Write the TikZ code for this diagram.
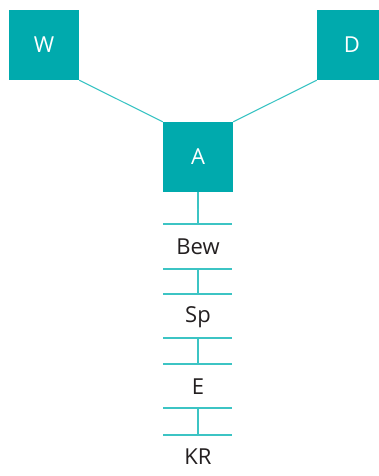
\documentclass[tikz,border=0pt]{standalone}
\usepackage{fontspec}
\setmainfont{Open Sans}
\definecolor{teal1}{HTML}{00AAAD}
\definecolor{teal2}{HTML}{3CC4C4}
\definecolor{txt}{HTML}{231F20}
\begin{document}
\begin{tikzpicture}[x=1pt,y=-1pt,
  box/.style={fill=teal1,draw=none,minimum width=70pt,minimum height=70pt,inner sep=0pt,text=white,font=\fontsize{22}{24}\selectfont},
  lbl/.style={text=txt,font=\fontsize{22}{24}\selectfont,inner sep=0pt},
  ln/.style={draw=teal2,line width=1.1pt},
  bar/.style={draw=teal2,line width=1.3pt}]
\useasboundingbox (0,0) rectangle (379,476);
\clip (0,0) rectangle (379,476);
\node[box] (W) at (44,45) {W};
\node[box] (D) at (352,45) {D};
\node[box] (A) at (198,157) {A};
\draw[ln] (W.south east) -- (A.north west);
\draw[ln] (D.south west) -- (A.north east);
% ladder
\coordinate (h1l) at (163,224); \coordinate (h1r) at (232,224);
\coordinate (h2l) at (163,269); \coordinate (h2r) at (232,269);
\coordinate (h3l) at (163,294); \coordinate (h3r) at (232,294);
\coordinate (h4l) at (163,338); \coordinate (h4r) at (232,338);
\coordinate (h5l) at (163,364); \coordinate (h5r) at (232,364);
\coordinate (h6l) at (163,408); \coordinate (h6r) at (232,408);
\coordinate (h7l) at (163,435); \coordinate (h7r) at (232,435);
\coordinate (s1) at (198,224);
\coordinate (s2a) at (198,269); \coordinate (s2b) at (198,294);
\coordinate (s3a) at (198,338); \coordinate (s3b) at (198,364);
\coordinate (s4a) at (198,408); \coordinate (s4b) at (198,435);
\draw[bar] (h1l) -- (h1r);
\draw[bar] (h2l) -- (h2r);
\draw[bar] (h3l) -- (h3r);
\draw[bar] (h4l) -- (h4r);
\draw[bar] (h5l) -- (h5r);
\draw[bar] (h6l) -- (h6r);
\draw[bar] (h7l) -- (h7r);
\draw[ln] (A.south) -- (s1);
\draw[ln] (s2a) -- (s2b);
\draw[ln] (s3a) -- (s3b);
\draw[ln] (s4a) -- (s4b);
\node[lbl] (bew) at (198,247) {Bew};
\node[lbl] (sp) at (198,317) {Sp};
\node[lbl] (e) at (198,387) {E};
\node[lbl] (kr) at (198,457) {KR};
\end{tikzpicture}
\end{document}
